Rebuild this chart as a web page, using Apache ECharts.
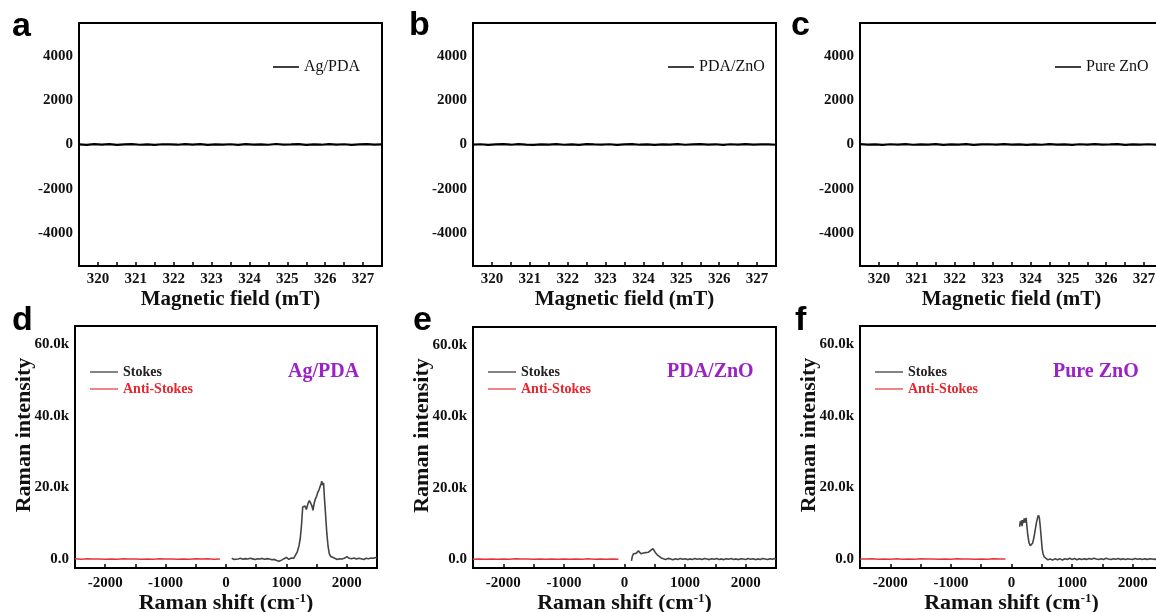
<!DOCTYPE html>
<html>
<head>
<meta charset="utf-8">
<script src="https://cdn.jsdelivr.net/npm/echarts@6/dist/echarts.min.js"></script>
<style>html,body{margin:0;padding:0;background:#fff;}#c{width:1156px;height:612px;}</style>
</head>
<body>
<div id="c"></div>
<script>
// ---------- DATA ----------
const eprNames = ['Ag/PDA', 'PDA/ZnO', 'Pure ZnO'];
const eprStart = 319.5, eprStep = 0.2;   // magnetic field sampling (mT)
const eprAgPDA = [10,-15,20,-5,15,-20,5,18,-12,8,-18,12,3,-10,20,-8,15,-15,5,-3,12,-20,18,-5,10,-12,22,-8,3,15,-18,8,-10,20,-5,12,-15,5,18,-10,8];
const eprPDAZnO = [-8,12,-18,5,15,-10,20,-3,-15,10,-5,18,-12,8,-20,15,3,-8,12,-15,5,20,-10,8,-18,10,-3,15,-12,5,18,-8,10,-20,12,-5,15,-10,3,8,-12];
const eprPureZnO = [15,-10,5,-18,12,-5,20,-12,8,-3,18,-15,10,-8,15,-20,5,12,-10,18,-5,8,-15,10,-12,20,-3,5,-18,12,-8,15,-10,3,18,-15,8,-5,12,-10,5];

const ramanNames = ['Ag/PDA', 'PDA/ZnO', 'Pure ZnO'];
const antiStokesAgPDA = [[-2500,50],[-2400,-40],[-2300,60],[-2200,-20],[-2100,40],[-2000,-50],[-1900,30],[-1800,-30],[-1700,50],[-1600,-10],[-1500,40],[-1400,-60],[-1300,20],[-1200,-40],[-1100,60],[-1000,-20],[-900,30],[-800,-50],[-700,40],[-600,-30],[-500,60],[-400,-20],[-300,50],[-200,-40],[-100,30]];
const antiStokesPDAZnO = [[-2500,-30],[-2400,50],[-2300,-20],[-2200,40],[-2100,-50],[-2000,30],[-1900,-40],[-1800,60],[-1700,-10],[-1600,40],[-1500,-30],[-1400,50],[-1300,-60],[-1200,20],[-1100,-40],[-1000,50],[-900,-20],[-800,40],[-700,-30],[-600,60],[-500,-50],[-400,30],[-300,-20],[-200,50],[-100,-30]];
const antiStokesPureZnO = [[-2500,40],[-2400,-20],[-2300,50],[-2200,-40],[-2100,30],[-2000,-30],[-1900,60],[-1800,-50],[-1700,20],[-1600,-40],[-1500,50],[-1400,-20],[-1300,40],[-1200,-60],[-1100,30],[-1000,-30],[-900,50],[-800,-20],[-700,40],[-600,-50],[-500,30],[-400,-40],[-300,60],[-200,-20],[-100,40]];

const stokesAgPDA = [[95,200],[130,-100],[160,150],[200,0],[240,200],[280,-50],[320,120],[360,0],[400,220],[440,50],[480,-120],[520,100],[560,0],[600,180],[640,-50],[680,120],[720,0],[760,-200],[800,-100],[840,-400],[880,-600],[920,-300],[960,100],[1000,450],[1040,-100],[1080,300],[1120,200],[1150,700],[1180,2000],[1210,3800],[1230,5800],[1250,9500],[1270,14500],[1290,14000],[1310,14800],[1330,13800],[1360,15600],[1380,16300],[1400,15800],[1420,15000],[1440,13600],[1460,15500],[1480,16800],[1500,17500],[1520,18600],[1540,19300],[1560,20300],[1575,21000],[1585,21700],[1600,20600],[1615,21300],[1630,17000],[1650,12000],[1670,7000],[1690,3500],[1710,1500],[1730,800],[1760,400],[1800,200],[1840,-100],[1880,100],[1920,0],[1960,200],[2000,650],[2040,200],[2080,100],[2120,300],[2160,0],[2200,200],[2240,100],[2280,-100],[2320,200],[2360,100],[2400,300],[2440,200],[2480,450],[2500,300]];
const stokesPDAZnO = [[115,-500],[130,800],[150,1500],[170,1000],[190,1600],[210,1400],[230,2300],[250,1800],[270,1500],[290,1200],[310,1700],[330,1400],[350,1800],[370,1500],[390,1900],[410,2000],[430,2400],[450,2600],[470,2900],[490,2500],[510,1800],[540,1200],[570,800],[600,400],[640,100],[680,-100],[720,200],[760,0],[800,-200],[840,100],[880,-100],[920,150],[960,-50],[1000,100],[1040,-150],[1080,50],[1120,-100],[1160,150],[1200,-50],[1240,100],[1280,-100],[1320,150],[1360,0],[1400,-150],[1440,100],[1480,-50],[1520,150],[1560,-100],[1600,50],[1640,-150],[1680,100],[1720,-50],[1760,150],[1800,-100],[1840,50],[1880,-150],[1920,100],[1960,0],[2000,-100],[2040,150],[2080,-50],[2120,100],[2160,-150],[2200,50],[2240,-100],[2280,150],[2320,0],[2360,-100],[2400,100],[2440,-50],[2480,150],[2500,50]];
const stokesPureZnO = [[135,9000],[145,10500],[155,9500],[165,10800],[175,9200],[185,10900],[195,10000],[210,11300],[225,10200],[240,11500],[255,9000],[270,6500],[290,4500],[310,3700],[330,3600],[350,4500],[370,6000],[390,8000],[410,10000],[430,11500],[445,12200],[460,11500],[475,9000],[490,6000],[505,3000],[520,1500],[540,600],[570,100],[600,-200],[640,0],[680,-300],[720,100],[760,-200],[800,50],[840,-250],[880,100],[920,-150],[960,200],[1000,-100],[1040,150],[1080,-200],[1120,100],[1160,-150],[1200,50],[1240,-100],[1280,150],[1320,-50],[1360,250],[1400,0],[1440,-150],[1480,100],[1520,-100],[1560,200],[1600,0],[1640,-150],[1680,100],[1720,-50],[1760,150],[1800,-100],[1840,50],[1880,-150],[1920,100],[1960,-50],[2000,-100],[2040,150],[2080,-50],[2120,100],[2160,-150],[2200,50],[2240,-100],[2280,100],[2320,0],[2360,-100],[2400,50],[2440,-50],[2480,100],[2500,0]];

const eprData = [eprAgPDA, eprPDAZnO, eprPureZnO];
const stokesData = [stokesAgPDA, stokesPDAZnO, stokesPureZnO];
const antiData = [antiStokesAgPDA, antiStokesPDAZnO, antiStokesPureZnO];
const panelLetters = ['a','b','c','d','e','f'];

// ---------- LAYOUT ----------
const SERIF = 'Liberation Serif';
const SANS = 'Liberation Sans';
const grids = [
  {left:79, top:23, width:303, height:243},
  {left:473, top:23, width:303, height:243},
  {left:860, top:23, width:303, height:243},
  {left:75, top:326, width:302, height:242},
  {left:473, top:327, width:303, height:241},
  {left:860, top:326, width:303, height:242}
];
const tickLabel = {fontFamily:SERIF, fontWeight:'bold', fontSize:15, color:'#111'};
const axisName = {fontFamily:SERIF, fontWeight:'bold', fontSize:21, color:'#111'};

const xAxes = [], yAxes = [], series = [], legends = [];
grids.forEach(g => {
  g.show = true; g.borderColor = '#000'; g.borderWidth = 2; g.backgroundColor = 'transparent';
  g.containLabel = false; g.outerBoundsMode = 'none';
});

for (let i = 0; i < 3; i++) {
  xAxes.push({
    gridIndex:i, type:'value', min:319.5, max:327.5, interval:0.5, position:'bottom',
    axisLine:{show:false, onZero:false}, splitLine:{show:false},
    axisTick:{show:true, inside:true, length:4, lineStyle:{color:'#000', width:1.5}},
    axisLabel:{...tickLabel, margin:6, formatter:v => Number.isInteger(v) ? String(v) : ''},
    name:'Magnetic field (mT)', nameLocation:'middle', nameGap:23, nameMoveOverlap:false, nameTextStyle:axisName
  });
  yAxes.push({
    gridIndex:i, type:'value', min:-5500, max:5500, interval:500,
    axisLine:{show:false, onZero:false}, splitLine:{show:false}, axisTick:{show:false},
    axisLabel:{...tickLabel, margin:6, formatter:v => (v % 2000 === 0) ? String(v) : ''}
  });
  series.push({
    type:'line', name:eprNames[i], xAxisIndex:i, yAxisIndex:i, symbol:'none',
    data: eprData[i].map((y, k) => [eprStart + k * eprStep, y]),
    lineStyle:{color:'#000', width:2.2}, itemStyle:{color:'#000'}, animation:false
  });
}
const eprLegendLeft = [273, 668, 1055];
for (let i = 0; i < 3; i++) {
  legends.push({
    left:eprLegendLeft[i], top:59, padding:0, icon:'rect', itemWidth:26, itemHeight:1.5, itemGap:0,
    data:[eprNames[i]], selectedMode:false,
    textStyle:{fontFamily:SERIF, fontSize:16, color:'#111'}
  });
}

for (let j = 0; j < 3; j++) {
  const i = j + 3;
  xAxes.push({
    gridIndex:i, type:'value', min:-2500, max:2500, interval:500, position:'bottom',
    axisLine:{show:false, onZero:false}, splitLine:{show:false},
    axisTick:{show:true, inside:true, length:4, lineStyle:{color:'#000', width:1.5}},
    axisLabel:{...tickLabel, margin:8, formatter:v => (v % 1000 === 0) ? String(v) : ''},
    name:'{a|Raman shift (cm}{s|-1}{a|)}', nameLocation:'middle', nameGap:24, nameMoveOverlap:false,
    nameTextStyle:{...axisName, fontSize:22, rich:{
      a:{fontFamily:SERIF, fontWeight:'bold', fontSize:22, color:'#111'},
      s:{fontFamily:SERIF, fontWeight:'bold', fontSize:13, color:'#111', verticalAlign:'top'}
    }}
  });
  yAxes.push({
    gridIndex:i, type:'value', min:-2500, max:65000, interval:2500,
    axisLine:{show:false, onZero:false}, splitLine:{show:false}, axisTick:{show:false},
    axisLabel:{...tickLabel, margin:6, formatter:v => (v % 20000 === 0) ? (v === 0 ? '0.0' : (v/1000).toFixed(1) + 'k') : ''},
    name:'Raman intensity', nameLocation:'middle', nameGap:40, nameMoveOverlap:false,
    nameTextStyle:{...axisName, fontSize:22, padding:[0,0,0,24]}
  });
  series.push({
    type:'line', name:'Stokes', xAxisIndex:i, yAxisIndex:i, symbol:'none',
    data: stokesData[j], lineStyle:{color:'#444', width:1.6}, itemStyle:{color:'#444'}, animation:false
  });
  series.push({
    type:'line', name:'Anti-Stokes', xAxisIndex:i, yAxisIndex:i, symbol:'none',
    data: antiData[j], lineStyle:{color:'#e8333a', width:1.5}, itemStyle:{color:'#e8333a'}, animation:false
  });
}
const ramanLegendLeft = [90, 488, 875];
for (let j = 0; j < 3; j++) {
  legends.push({
    left:ramanLegendLeft[j], top:365, padding:0, orient:'vertical', icon:'rect', itemWidth:28, itemHeight:1.2, itemGap:3,
    selectedMode:false,
    data:[
      {name:'Stokes', textStyle:{color:'#222'}, itemStyle:{color:'#333'}},
      {name:'Anti-Stokes', textStyle:{color:'#e8262d'}, itemStyle:{color:'#e8333a'}}
    ],
    textStyle:{fontFamily:SERIF, fontWeight:'bold', fontSize:14, lineHeight:14}
  });
}

const letterPos = [[12,47],[409,46],[791,46],[12,341],[413,341],[795,341]];
const graphics = letterPos.map((p, k) => ({
  type:'text', left:p[0], top:p[1] - 37,
  style:{text:panelLetters[k], fontFamily:SANS, fontWeight:'bold', fontSize:34, fill:'#000'}
}));
const purplePos = [[288,372],[667,372],[1053,372]];
purplePos.forEach((p, k) => graphics.push({
  type:'text', x:p[0], y:p[1],
  style:{text:ramanNames[k], fontFamily:SERIF, fontWeight:'bold', fontSize:20, fill:'#9b22c4', verticalAlign:'middle'}
}));

const chart = echarts.init(document.getElementById('c'), null, {renderer:'canvas'});
chart.setOption({
  animation:false,
  backgroundColor:'#fff',
  grid:grids, xAxis:xAxes, yAxis:yAxes, series:series, legend:legends, graphic:graphics
});
</script>
</body>
</html>
